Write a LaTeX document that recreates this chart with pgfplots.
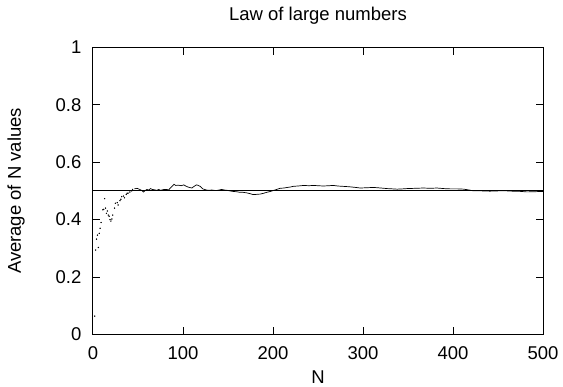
\documentclass[border=0pt]{standalone}
\usepackage{pgfplots}
\pgfplotsset{compat=1.18}
\usepackage{fontspec}
\setmainfont{Liberation Sans}
\begin{document}
\begin{tikzpicture}
\begin{axis}[
  at={(0,0)}, anchor=south west,
  scale only axis,
  width=450.3pt, height=287.4pt,
  xmin=0, xmax=500, ymin=0, ymax=1,
  xtick={0,100,...,500},
  ytick={0,0.2,0.4,0.6,0.8,1},
  yticklabels={0,0.2,0.4,0.6,0.8,1},
  tick align=inside,
  major tick length=7.5pt,
  every tick/.style={black, line width=0.9pt},
  axis line style={line width=1pt},
  /pgf/number format/assume math mode=true,
  tick label style={font=\fontsize{18.5}{21}\selectfont},
  xticklabel style={yshift=-9pt},
  yticklabel style={xshift=-8pt},
  title={Law of large numbers},
  title style={font=\fontsize{18.5}{21}\selectfont, at={(axis description cs:0.5,1.0717)}, anchor=base, inner sep=0pt},
  xlabel={N},
  xlabel style={font=\fontsize{18.5}{21}\selectfont, at={(axis description cs:0.5,-0.1715)}, anchor=base, inner sep=0pt},
  ylabel={Average of N values},
  ylabel style={font=\fontsize{18.5}{21}\selectfont, at={(axis description cs:-0.16,0.5)}, anchor=base, inner sep=0pt},
  clip=false,
]
\addplot[black, line width=0.9pt] coordinates {(0,0.5) (500,0.5)};
\addplot[only marks, mark=*, mark size=0.45pt, black] coordinates {
(2,0.064) (3,0.294) (4,0.332) (5,0.346) (6,0.303) (7,0.352) (8,0.370)
(9,0.390) (11,0.434) (12,0.436) (13,0.473) (14,0.440) (15,0.422) (16,0.430)
(17,0.416) (18,0.412) (19,0.400) (20,0.395) (21,0.402) (22,0.416) (24,0.440)
(25,0.457) (27,0.459) (28,0.451) (30,0.466) (31,0.471) (32,0.480) (34,0.482)
(35,0.476) (37,0.488) (38,0.492) (39,0.492) (41,0.496) (43,0.500) (44,0.505)
};
\addplot[black, line width=0.7pt] coordinates {
(46,0.507) (49,0.509) (52,0.505) (54,0.502) (56,0.496) (58,0.501) (60,0.505)
(62,0.503) (64,0.508) (66,0.505) (68,0.504) (71,0.502) (73,0.505) (75,0.502)
(79,0.505) (82,0.505) (84,0.503) (86,0.510) (88,0.516) (90,0.523) (92,0.519)
(95,0.520) (98,0.518) (101,0.521) (103,0.517) (106,0.513) (110,0.510) (112,0.515)
(115,0.521) (117,0.519) (119,0.516) (122,0.507) (125,0.504) (128,0.502) (132,0.503)
(137,0.501) (140,0.503) (143,0.505) (146,0.503) (149,0.502) (152,0.500) (156,0.498)
(160,0.497) (163,0.495) (167,0.495) (171,0.493) (175,0.490) (178,0.487) (182,0.488)
(186,0.489) (190,0.492) (193,0.495) (197,0.498) (201,0.502) (205,0.506) (208,0.509)
(212,0.510) (216,0.512) (220,0.514) (223,0.516) (228,0.517) (234,0.519) (240,0.518)
(245,0.519) (250,0.518) (256,0.517) (262,0.518) (267,0.519) (272,0.517) (277,0.516)
(282,0.515) (286,0.514) (292,0.512) (297,0.510) (304,0.511) (312,0.512) (320,0.510)
(327,0.508) (333,0.507) (338,0.506) (344,0.507) (349,0.508) (358,0.509) (367,0.510)
(375,0.509) (382,0.510) (390,0.508) (397,0.507) (405,0.507) (412,0.506) (418,0.503)
(423,0.500) (432,0.500) (441,0.499) (450,0.500) (460,0.500) (466,0.499) (471,0.499)
(476,0.498) (482,0.4965) (490,0.497) (497,0.498) (500,0.498)
};
\end{axis}
\pgfresetboundingbox
\path (-93pt,-52.3pt) rectangle (470.3pt,334.7pt);
\end{tikzpicture}
\end{document}
